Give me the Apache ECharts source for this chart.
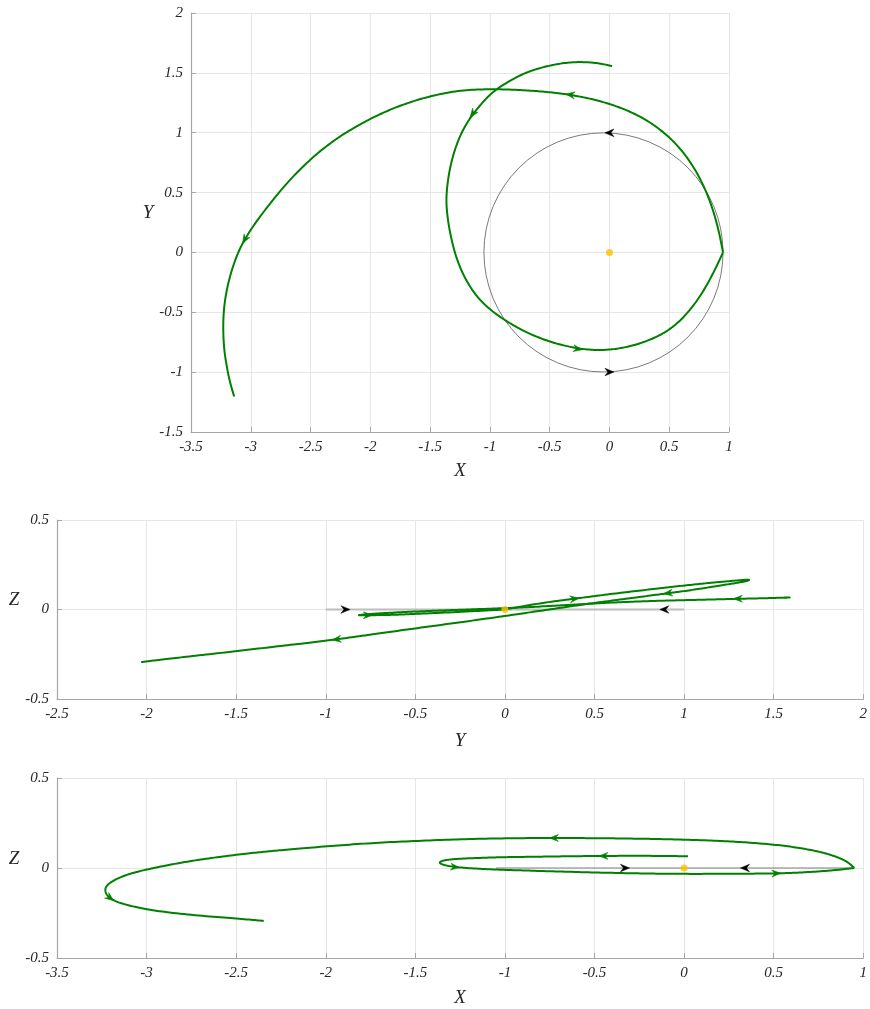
<!DOCTYPE html>
<html>
<head>
<meta charset="utf-8">
<script src="https://cdn.jsdelivr.net/npm/echarts@6/dist/echarts.min.js"></script>
<style>
html,body{margin:0;padding:0;background:#fff;}
#chart{width:870px;height:1009px;}
</style>
</head>
<body>
<div id="chart"></div>
<script>
// ---- Trajectory (time ordered) ----
const X = [0.022,-0.1,-0.278,-0.45,-0.667,-0.806,-0.944,-1.02,-1.144,-1.222,-1.278,-1.328,-1.356,-1.367,-1.356,-1.328,-1.278,-1.19,-1.07,-0.92,-0.72,-0.5,-0.264,-0.1,0.056,0.26,0.44,0.515,0.59,0.71,0.81,0.89,0.95,
           0.912,0.857,0.782,0.685,0.562,0.413,0.244,0.059,-0.133,-0.329,-0.528,-0.727,-0.944,-1.222,-1.488,-1.746,-1.993,-2.227,-2.337,-2.444,-2.642,-2.817,-2.98,-3.05,-3.115,-3.198,-3.236,-3.226,-3.203,-3.179,-3.139,-3.0,-2.75,-2.5,-2.346];
const Y = [1.556,1.585,1.594,1.575,1.519,1.45,1.367,1.30,1.158,1.033,0.908,0.742,0.575,0.436,0.297,0.131,-0.064,-0.26,-0.42,-0.54,-0.66,-0.75,-0.806,-0.818,-0.81,-0.765,-0.685,-0.633,-0.575,-0.44,-0.285,-0.13,0,
           0.196,0.389,0.574,0.749,0.907,1.04,1.146,1.224,1.28,1.318,1.342,1.356,1.365,1.36,1.311,1.232,1.124,0.989,0.91,0.829,0.645,0.439,0.224,0.108,-0.01,-0.267,-0.534,-0.804,-0.94,-1.07,-1.203,-1.5,-1.76,-1.92,-2.03];
const Z = [0.065,0.067,0.068,0.067,0.065,0.063,0.061,0.06,0.056,0.053,0.05,0.045,0.038,0.03,0.022,0.013,0.005,-0.002,-0.008,-0.013,-0.019,-0.025,-0.03,-0.032,-0.033,-0.032,-0.031,-0.03,-0.028,-0.022,-0.015,-0.007,0,
           0.036,0.06,0.085,0.105,0.124,0.138,0.149,0.156,0.161,0.164,0.166,0.167,0.166,0.161,0.151,0.139,0.121,0.101,0.091,0.08,0.056,0.029,-0.004,-0.02,-0.038,-0.074,-0.11,-0.148,-0.167,-0.183,-0.198,-0.233,-0.262,-0.28,-0.294];
const CUSP_INDEX = 32;      // departure point on the circular orbit
const XY_LAST_INDEX = 63;   // last sample shown in the X-Y view

// arrow marks (indices into the trajectory)
const arrowsXY = [8, 22, 42, 56];
const arrowsYZ = [7, 25, 34, 51, 61];
const arrowsXZ = [3, 16, 27, 44, 61];

// reference circular orbit
const ORBIT_CENTER = [-0.05, 0, 0];
const ORBIT_RADIUS = 1;
// orbit direction arrows: [u, v, du, dv] in each view
const orbitArrowsXY = [[0, 0.999, -1, 0], [0, -0.999, 1, 0]];
const orbitArrowsYZ = [[-0.89, 0, 1, 0], [0.89, 0, -1, 0]];
const orbitArrowsXZ = [[-0.33, 0, 1, 0], [0.34, 0, -1, 0]];

// central body
const ORIGIN = [0, 0, 0];

// axis ranges [min, max, interval]
const rangeXY_X = [-3.5, 1, 0.5], rangeXY_Y = [-1.5, 2, 0.5];
const rangeYZ_Y = [-2.5, 2, 0.5], rangeYZ_Z = [-0.5, 0.5, 0.5];
const rangeXZ_X = [-3.5, 1, 0.5], rangeXZ_Z = [-0.5, 0.5, 0.5];

// ---- helpers ----
function arrowData(a, b, idx) {
  return idx.map(i => [a[i], b[i], a[i + 1] - a[i - 1], b[i + 1] - b[i - 1]]);
}
function arrowRenderer(color, L, W, N) {
  return function (params, api) {
    const p = api.coord([api.value(0), api.value(1)]);
    const q = api.coord([api.value(0) + api.value(2), api.value(1) + api.value(3)]);
    const ang = Math.atan2(q[1] - p[1], q[0] - p[0]);
    const c = Math.cos(ang), s = Math.sin(ang);
    const local = [[L * 0.5, 0], [-L * 0.5, -W], [-L * 0.5 + N, 0], [-L * 0.5, W]];
    const pts = local.map(([u, v]) => [p[0] + u * c - v * s, p[1] + u * s + v * c]);
    return { type: 'polygon', shape: { points: pts }, style: { fill: color, stroke: color, lineWidth: 0.5 } };
  };
}
// clamped uniform cubic B-spline through pixel control points (rendering only)
function bspline(P) {
  const n = P.length;
  if (n < 3) return P;
  const Q = [P[0], P[0]].concat(P, [P[n - 1], P[n - 1]]);
  const out = [];
  const steps = 12;
  for (let i = 0; i < Q.length - 3; i++) {
    const p0 = Q[i], p1 = Q[i + 1], p2 = Q[i + 2], p3 = Q[i + 3];
    for (let k = 0; k < steps; k++) {
      const t = k / steps, t2 = t * t, t3 = t2 * t;
      const b0 = (1 - t) * (1 - t) * (1 - t) / 6;
      const b1 = (3 * t3 - 6 * t2 + 4) / 6;
      const b2 = (-3 * t3 + 3 * t2 + 3 * t + 1) / 6;
      const b3 = t3 / 6;
      out.push([b0 * p0[0] + b1 * p1[0] + b2 * p2[0] + b3 * p3[0], b0 * p0[1] + b1 * p1[1] + b2 * p2[1] + b3 * p3[1]]);
    }
  }
  out.push(P[n - 1]);
  return out;
}

const GREEN = '#008000';
const FONT = 'Liberation Serif';

function trackSeries(g, a, b, from, to) {
  return {
    type: 'custom', xAxisIndex: g, yAxisIndex: g, silent: true, z: 2, clip: false,
    data: [[a[from], b[from]]], encode: { x: 0, y: 1 },
    renderItem: function (params, api) {
      const pts = [];
      for (let i = from; i <= to; i++) pts.push(api.coord([a[i], b[i]]));
      return { type: 'polyline', shape: { points: bspline(pts) },
        style: { stroke: GREEN, lineWidth: 2, fill: null, lineJoin: 'round', lineCap: 'butt' } };
    }
  };
}

function axisCommon(range, name, gridIndex) {
  return {
    gridIndex: gridIndex, type: 'value', min: range[0], max: range[1], interval: range[2],
    name: name, nameLocation: 'middle',
    nameTextStyle: { fontFamily: FONT, fontStyle: 'italic', fontSize: 19, color: '#262626' },
    axisLine: { show: true, onZero: false, lineStyle: { color: '#a6a6a6', width: 1.2 } },
    axisTick: { show: true, inside: true, length: 5, lineStyle: { color: '#a6a6a6' } },
    splitLine: { show: true, lineStyle: { color: '#e6e6e6', width: 1 } },
    axisLabel: { color: '#262626', fontFamily: FONT, fontStyle: 'italic', fontSize: 15, margin: 8 }
  };
}
function xAx(range, name, g, gap) {
  const a = axisCommon(range, name, g); a.position = 'bottom'; a.nameGap = gap; return a;
}
function yAx(range, name, g, gap) {
  const a = axisCommon(range, name, g); a.position = 'left'; a.nameGap = gap; a.nameRotate = 0;
  a.nameTextStyle.verticalAlign = 'bottom'; return a;
}

function panelSeries(g, a, b, last, arrows, orbitArrows, orbitSeries) {
  const list = [];
  list.push(Object.assign({ xAxisIndex: g, yAxisIndex: g, silent: true, z: 1 }, orbitSeries));
  list.push(trackSeries(g, a, b, 0, CUSP_INDEX));
  list.push(trackSeries(g, a, b, CUSP_INDEX, last));
  list.push({ type: 'custom', xAxisIndex: g, yAxisIndex: g, data: arrowData(a, b, arrows), encode: { x: 0, y: 1 },
    renderItem: arrowRenderer(GREEN, 9, 3.5, 3), silent: true, z: 3, clip: false });
  list.push({ type: 'custom', xAxisIndex: g, yAxisIndex: g, data: orbitArrows, encode: { x: 0, y: 1 },
    renderItem: arrowRenderer('#000000', 9, 3.8, 3), silent: true, z: 3, clip: false });
  list.push({ type: 'scatter', xAxisIndex: g, yAxisIndex: g, data: [[ORIGIN[0], ORIGIN[1]]], symbolSize: 7,
    itemStyle: { color: '#FFC000' }, silent: true, z: 4 });
  return list;
}

const orbitXY = {
  type: 'custom', data: [[ORBIT_CENTER[0], ORBIT_CENTER[1], ORBIT_RADIUS]], encode: { x: 0, y: 1 }, clip: false,
  renderItem: function (params, api) {
    const c = api.coord([api.value(0), api.value(1)]);
    const e = api.coord([api.value(0) + api.value(2), api.value(1)]);
    return { type: 'circle', shape: { cx: c[0], cy: c[1], r: e[0] - c[0] }, style: { fill: 'none', stroke: '#7a7a7a', lineWidth: 1 } };
  }
};
const orbitYZ = {
  type: 'line', data: [[ORBIT_CENTER[1] - ORBIT_RADIUS, ORBIT_CENTER[2]], [ORBIT_CENTER[1] + ORBIT_RADIUS, ORBIT_CENTER[2]]],
  showSymbol: false, lineStyle: { color: '#bdbdbd', width: 2 }
};
const orbitXZ = {
  type: 'line', data: [[ORBIT_CENTER[0] - ORBIT_RADIUS, ORBIT_CENTER[2]], [ORBIT_CENTER[0] + ORBIT_RADIUS, ORBIT_CENTER[2]]],
  showSymbol: false, lineStyle: { color: '#808080', width: 1.2 }
};

const option = {
  animation: false,
  backgroundColor: '#ffffff',
  grid: [
    { left: 191, top: 13, width: 538, height: 419 },
    { left: 57, top: 520, width: 809, height: 179 },
    { left: 57, top: 778, width: 809, height: 180 }
  ],
  xAxis: [
    xAx(rangeXY_X, 'X', 0, 29),
    xAx(rangeYZ_Y, 'Y', 1, 32),
    xAx(rangeXZ_X, 'X', 2, 30)
  ],
  yAxis: [
    yAx(rangeXY_Y, 'Y', 0, 28),
    yAx(rangeYZ_Z, 'Z', 1, 31),
    yAx(rangeXZ_Z, 'Z', 2, 31)
  ],
  series: [].concat(
    panelSeries(0, X, Y, XY_LAST_INDEX, arrowsXY, orbitArrowsXY, orbitXY),
    panelSeries(1, Y, Z, X.length - 1, arrowsYZ, orbitArrowsYZ, orbitYZ),
    panelSeries(2, X, Z, X.length - 1, arrowsXZ, orbitArrowsXZ, orbitXZ)
  )
};

const chart = echarts.init(document.getElementById('chart'), null, { renderer: 'canvas' });
chart.setOption(option);
</script>
</body>
</html>
